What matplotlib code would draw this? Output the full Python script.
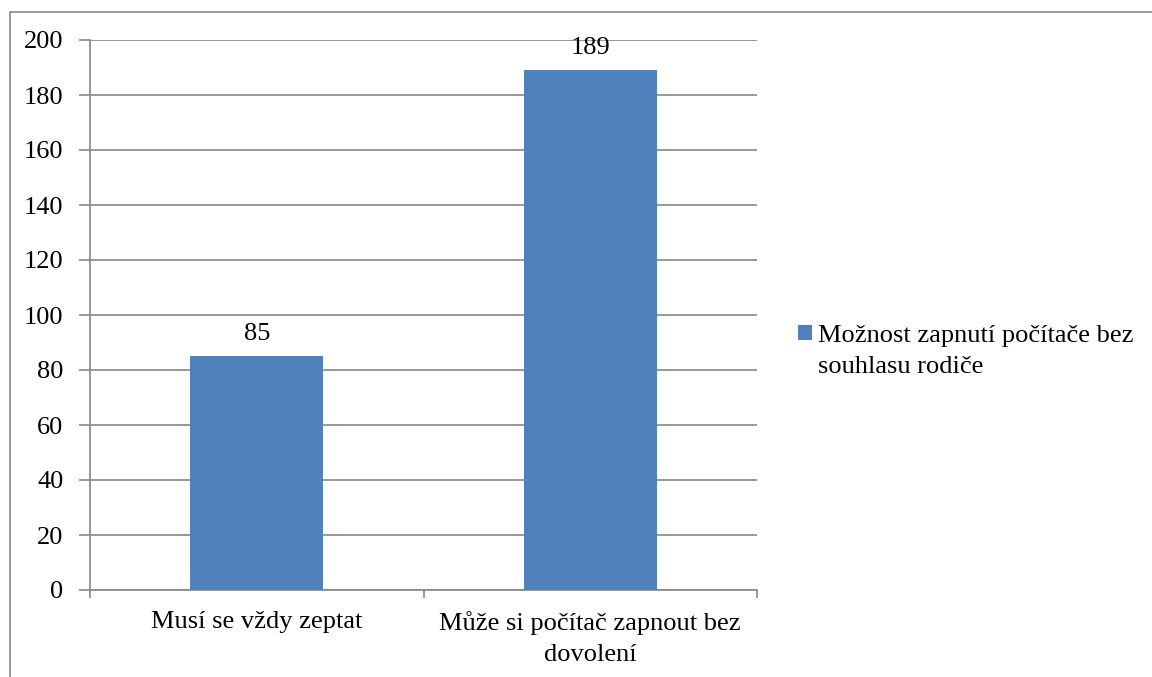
import matplotlib.pyplot as plt
from matplotlib.patches import Rectangle

categories = ['Musí se vždy zeptat', 'Může si počítač zapnout bez\ndovolení']
values = [85, 189]
series_name = ['Možnost zapnutí počítače bez', 'souhlasu rodiče']
yticks = [0, 20, 40, 60, 80, 100, 120, 140, 160, 180, 200]

plt.rcParams['font.family'] = ['Liberation Serif', 'DejaVu Serif']
grey = '#868686'
blue = '#4F81BD'
fs = 19

fig = plt.figure(figsize=(11.52, 6.77), dpi=100)
ax = fig.add_axes([90/1152, 1 - 590/677, (757-90)/1152, (590-40)/677])

# outer chart border
fig.patches.append(Rectangle((10/1152, -0.05), 1.2, 1 - 12/677 + 0.05,
                             transform=fig.transFigure, fill=False,
                             edgecolor=grey, linewidth=1.2))

x = range(len(categories))
bars = ax.bar(x, values, width=0.4, color=blue, label=series_name[0], zorder=3)
for b, v in zip(bars, values):
    ax.text(b.get_x() + b.get_width()/2, v + 4, str(v), ha='center', va='bottom',
            fontsize=fs)

ax.set_xlim(-0.5, len(categories) - 0.5)
ax.set_ylim(0, 200)
ax.set_yticks(yticks)
ax.yaxis.grid(True, color=grey, linewidth=1.2, zorder=0)
ax.tick_params(axis='y', length=8, color=grey, width=1.2, labelsize=fs, pad=11)

ax.set_xticks(x)
ax.set_xticklabels(categories, fontsize=fs, linespacing=1.55)
ax.set_xticks([-0.5, 0.5, 1.5], minor=True)
ax.tick_params(axis='x', which='major', length=0, pad=15)
ax.tick_params(axis='x', which='minor', length=6, color=grey, width=1.2)

for s in ['top', 'right']:
    ax.spines[s].set_visible(False)
for s in ['left', 'bottom']:
    ax.spines[s].set_color(grey)
    ax.spines[s].set_linewidth(1.2)

# legend: second line of the series name as a handle-less entry
blank = Rectangle((0, 0), 1, 1, fill=False, edgecolor='none')
ax.legend([bars, blank], series_name, loc='center left',
          bbox_to_anchor=(1.0615, 0.4345), frameon=False, fontsize=fs,
          handlelength=0.53, handleheight=0.53, handletextpad=0.23,
          labelspacing=0.33, borderpad=0, borderaxespad=0)

fig.savefig('out.png', dpi=100)
